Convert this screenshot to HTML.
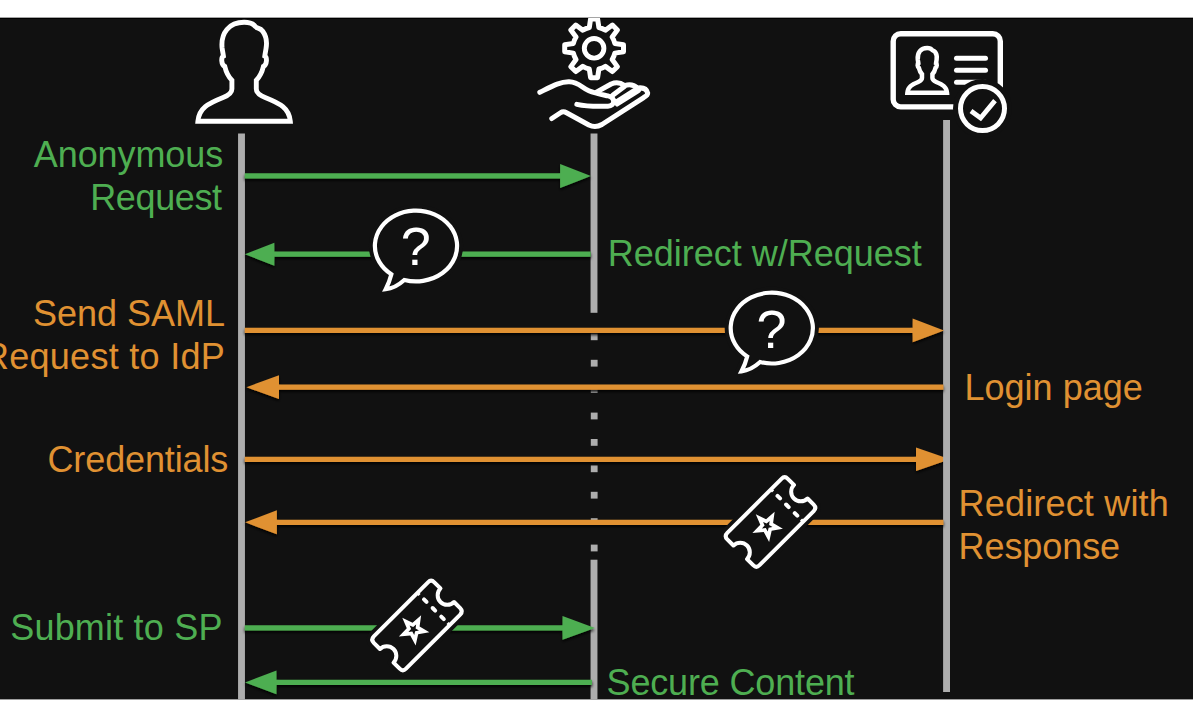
<!DOCTYPE html>
<html lang="en">
<head>
<meta charset="utf-8">
<title>SAML flow</title>
<style>
html,body{margin:0;padding:0;background:#fff;}
body{width:1193px;height:716px;overflow:hidden;font-family:"Liberation Sans",Arial,Helvetica,sans-serif;}
svg{display:block;}
</style>
</head>
<body>
<svg width="1193" height="716" viewBox="0 0 1193 716" font-family="'Liberation Sans', Arial, Helvetica, sans-serif">
<defs><filter id="sh" x="-5%" y="-50%" width="110%" height="250%"><feDropShadow dx="0" dy="2" stdDeviation="1.6" flood-color="#000" flood-opacity="0.9"/></filter><clipPath id="clip"><rect x="0" y="18" width="1193" height="681.4"/></clipPath></defs>
<rect width="1193" height="716" fill="#fff"/>
<rect x="0" y="17.8" width="1193" height="681.6" fill="#111111"/>
<rect x="0" y="17.8" width="1193" height="1.2" fill="#000"/>
<g clip-path="url(#clip)">
<rect x="238.05" y="133.5" width="6.9" height="570" fill="#adadad"/>
<rect x="590.55" y="133.5" width="6.9" height="179.3" fill="#adadad"/>
<rect x="590.55" y="559.7" width="6.9" height="150" fill="#adadad"/>
<rect x="590.80" y="333.40" width="6.8" height="6.8" fill="#adadad"/>
<rect x="590.80" y="359.80" width="6.8" height="6.8" fill="#adadad"/>
<rect x="590.80" y="386.20" width="6.8" height="6.8" fill="#adadad"/>
<rect x="590.80" y="412.60" width="6.8" height="6.8" fill="#adadad"/>
<rect x="590.80" y="439.00" width="6.8" height="6.8" fill="#adadad"/>
<rect x="590.80" y="465.40" width="6.8" height="6.8" fill="#adadad"/>
<rect x="590.80" y="491.80" width="6.8" height="6.8" fill="#adadad"/>
<rect x="590.80" y="518.20" width="6.8" height="6.8" fill="#adadad"/>
<rect x="590.80" y="544.60" width="6.8" height="6.8" fill="#adadad"/>
<g filter="url(#sh)">
<path d="M244.8 459.3 H917.0" stroke="#e09132" stroke-width="5.3" fill="none"/><path d="M916.0 447.6 L950.0 459.3 L916.0 471.0 Z" fill="#e09132"/>

</g>
<rect x="943.10" y="120" width="6.9" height="572" fill="#adadad"/>
<g filter="url(#sh)">
<path d="M244.8 175.9 H561.1" stroke="#4eae51" stroke-width="5.3" fill="none"/><path d="M560.1 163.9 L590.9 175.9 L560.1 187.9 Z" fill="#4eae51"/>

<path d="M590.7 254.2 H273.4" stroke="#4eae51" stroke-width="5.3" fill="none"/><path d="M274.4 242.7 L244.9 254.2 L274.4 265.7 Z" fill="#4eae51"/>

<path d="M244.8 330.4 H913.6" stroke="#e09132" stroke-width="5.3" fill="none"/><path d="M912.6 318.5 L944.0 330.4 L912.6 342.3 Z" fill="#e09132"/>

<path d="M943.4 387.2 H278.0" stroke="#e09132" stroke-width="5.3" fill="none"/><path d="M279.0 375.3 L246.4 387.2 L279.0 399.1 Z" fill="#e09132"/>

<path d="M943.4 522.3 H275.9" stroke="#e09132" stroke-width="5.3" fill="none"/><path d="M276.9 510.3 L245.1 522.3 L276.9 534.3 Z" fill="#e09132"/>

<path d="M244.8 627.9 H563.5" stroke="#4eae51" stroke-width="5.3" fill="none"/><path d="M562.5 616.1 L594.9 627.9 L562.5 639.7 Z" fill="#4eae51"/>

<path d="M592.0 682.4 H275.5" stroke="#4eae51" stroke-width="5.3" fill="none"/><path d="M276.5 670.6 L245.0 682.4 L276.5 694.2 Z" fill="#4eae51"/>

</g>
<path d="M391.38 274.35 A41.10 35.40 0 1 1 404.33 279.94 Q395.10 288.30 385.70 289.20 Q389.50 282.00 391.38 274.35 Z" fill="#111111" stroke="#111111" stroke-width="12" stroke-linejoin="round"/>
<path d="M391.38 274.35 A41.10 35.40 0 1 1 404.33 279.94 Q395.10 288.30 385.70 289.20 Q389.50 282.00 391.38 274.35 Z" fill="#111111" stroke="#fff" stroke-width="4.2" stroke-linejoin="miter"/>
<text x="415.7" y="265.4" font-size="54" fill="#fff" text-anchor="middle">?</text>

<path d="M747.18 356.45 A41.10 35.40 0 1 1 760.13 362.04 Q750.90 370.40 741.50 371.30 Q745.30 364.10 747.18 356.45 Z" fill="#111111" stroke="#111111" stroke-width="12" stroke-linejoin="round"/>
<path d="M747.18 356.45 A41.10 35.40 0 1 1 760.13 362.04 Q750.90 370.40 741.50 371.30 Q745.30 364.10 747.18 356.45 Z" fill="#111111" stroke="#fff" stroke-width="4.2" stroke-linejoin="miter"/>
<text x="771.5" y="347.5" font-size="54" fill="#fff" text-anchor="middle">?</text>

<g transform="translate(770.5 522.0) rotate(-45)">
<path d="M-38.30 -22.80 L38.30 -22.80 Q42.80 -22.80 42.80 -18.30 L42.80 -9.60 A9.60 9.60 0 0 0 42.80 9.60 L42.80 18.30 Q42.80 22.80 38.30 22.80 L-38.30 22.80 Q-42.80 22.80 -42.80 18.30 L-42.80 9.60 A9.60 9.60 0 0 0 -42.80 -9.60 L-42.80 -18.30 Q-42.80 -22.80 -38.30 -22.80 Z" fill="#111111" stroke="#111111" stroke-width="11.5" stroke-linejoin="round"/>
<path d="M-38.30 -22.80 L38.30 -22.80 Q42.80 -22.80 42.80 -18.30 L42.80 -9.60 A9.60 9.60 0 0 0 42.80 9.60 L42.80 18.30 Q42.80 22.80 38.30 22.80 L-38.30 22.80 Q-42.80 22.80 -42.80 18.30 L-42.80 9.60 A9.60 9.60 0 0 0 -42.80 -9.60 L-42.80 -18.30 Q-42.80 -22.80 -38.30 -22.80 Z" fill="#111111" stroke="#fff" stroke-width="4.0" stroke-linejoin="round"/>
<path d="M23.4 -13.5 L23.4 17.8" stroke="#fff" stroke-width="4.0" stroke-dasharray="3.6 8.6" stroke-linecap="round" fill="none"/>
<path d="M23.4 -22.8 v3 M23.4 22.8 v-3" stroke="#fff" stroke-width="3" fill="none"/>
<path d="M-4.93 -15.90 L-1.18 -5.11 L10.22 -4.36 L1.12 2.55 L3.92 13.62 L-5.45 7.10 L-15.12 13.19 L-11.81 2.25 L-20.59 -5.05 L-9.17 -5.29 Z" fill="#fff"/>
<path d="M-5.17 -5.30 L-3.85 -1.61 L0.06 -1.31 L-3.03 1.09 L-2.11 4.90 L-5.35 2.70 L-8.69 4.75 L-7.60 0.99 L-10.59 -1.55 L-6.67 -1.67 Z" fill="#111111"/>
</g>

<g transform="translate(417.0 625.5) rotate(-45)">
<path d="M-38.30 -22.80 L38.30 -22.80 Q42.80 -22.80 42.80 -18.30 L42.80 -9.60 A9.60 9.60 0 0 0 42.80 9.60 L42.80 18.30 Q42.80 22.80 38.30 22.80 L-38.30 22.80 Q-42.80 22.80 -42.80 18.30 L-42.80 9.60 A9.60 9.60 0 0 0 -42.80 -9.60 L-42.80 -18.30 Q-42.80 -22.80 -38.30 -22.80 Z" fill="#111111" stroke="#111111" stroke-width="11.5" stroke-linejoin="round"/>
<path d="M-38.30 -22.80 L38.30 -22.80 Q42.80 -22.80 42.80 -18.30 L42.80 -9.60 A9.60 9.60 0 0 0 42.80 9.60 L42.80 18.30 Q42.80 22.80 38.30 22.80 L-38.30 22.80 Q-42.80 22.80 -42.80 18.30 L-42.80 9.60 A9.60 9.60 0 0 0 -42.80 -9.60 L-42.80 -18.30 Q-42.80 -22.80 -38.30 -22.80 Z" fill="#111111" stroke="#fff" stroke-width="4.0" stroke-linejoin="round"/>
<path d="M23.4 -13.5 L23.4 17.8" stroke="#fff" stroke-width="4.0" stroke-dasharray="3.6 8.6" stroke-linecap="round" fill="none"/>
<path d="M23.4 -22.8 v3 M23.4 22.8 v-3" stroke="#fff" stroke-width="3" fill="none"/>
<path d="M-4.93 -15.90 L-1.18 -5.11 L10.22 -4.36 L1.12 2.55 L3.92 13.62 L-5.45 7.10 L-15.12 13.19 L-11.81 2.25 L-20.59 -5.05 L-9.17 -5.29 Z" fill="#fff"/>
<path d="M-5.17 -5.30 L-3.85 -1.61 L0.06 -1.31 L-3.03 1.09 L-2.11 4.90 L-5.35 2.70 L-8.69 4.75 L-7.60 0.99 L-10.59 -1.55 L-6.67 -1.67 Z" fill="#111111"/>
</g>

<path transform="translate(244.1 0)" d="M0 22.3 C6 22.3 9.5 24 11.5 26.8 C13 28.6 16 27.6 18.6 31.2 C22 35.8 23 42 22 48 C21.6 51 21 53.5 20.7 56 C23 57 23.2 64.5 19.3 66.5 C18 72 15.5 77 12.2 80.2 L12.2 89 C12.2 93 16 95.5 21 97.5 C36 103.5 45 108 46.2 121.2 L-46.2 121.2 C-45 108 -36 103.5 -21 97.5 C-16 95.5 -12.2 93 -12.2 89 L-12.2 80.2 C-15.5 77 -18 72 -19.3 66.5 C-23.2 64.5 -23 57 -20.7 56 C-21 53.5 -21.6 51 -22 48 C-23.5 33 -15 22.3 0 22.3 Z" fill="none" stroke="#fff" stroke-width="4.9" stroke-linejoin="miter"/>
<path d="M589.30 27.55 L590.60 18.91 L597.60 18.91 L598.90 27.55 A21.30 21.30 0 0 1 605.38 30.23 L612.41 25.04 L617.36 29.99 L612.17 37.02 A21.30 21.30 0 0 1 614.85 43.50 L623.49 44.80 L623.49 51.80 L614.85 53.10 A21.30 21.30 0 0 1 612.17 59.58 L617.36 66.61 L612.41 71.56 L605.38 66.37 A21.30 21.30 0 0 1 598.90 69.05 L597.60 77.69 L590.60 77.69 L589.30 69.05 A21.30 21.30 0 0 1 582.82 66.37 L575.79 71.56 L570.84 66.61 L576.03 59.58 A21.30 21.30 0 0 1 573.35 53.10 L564.71 51.80 L564.71 44.80 L573.35 43.50 A21.30 21.30 0 0 1 576.03 37.02 L570.84 29.99 L575.79 25.04 L582.82 30.23 A21.30 21.30 0 0 1 589.30 27.55 Z" fill="none" stroke="#fff" stroke-width="5.0" stroke-linejoin="round"/>
<circle cx="594.1" cy="48.3" r="9.8" fill="none" stroke="#fff" stroke-width="4.9"/>
<g transform="translate(530 70) scale(0.10897)"><path d="M90 205 C200 150 280 105 360 108 C450 112 470 160 540 190 C600 215 660 225 715 237 C785 252 785 330 715 332 C620 336 520 335 430 315 M200 445 L280 392 Q305 375 335 392 L540 505 Q600 535 660 500 L1043 253 Q1082 232 1080 212 Q1066 154 985 166 Q940 121 868 143 Q810 99 745 128 L610 203 M866 152 L762 230 M984 172 L786 296 M994 190 L800 312" fill="none" stroke="#fff" stroke-width="46" stroke-linecap="round" stroke-linejoin="round"/></g>
<rect x="893.2" y="33.7" width="107.1" height="73.2" rx="7.5" fill="none" stroke="#fff" stroke-width="5.4"/>
<g transform="translate(927.2 37.8) scale(0.4286 0.4528)"><path d="M0 22.3 C6 22.3 9.5 24 11.5 26.8 C13 28.6 16 27.6 18.6 31.2 C22 35.8 23 42 22 48 C21.6 51 21 53.5 20.7 56 C23 57 23.2 64.5 19.3 66.5 C18 72 15.5 77 12.2 80.2 L12.2 89 C12.2 93 16 95.5 21 97.5 C36 103.5 45 108 46.2 121.2 L-46.2 121.2 C-45 108 -36 103.5 -21 97.5 C-16 95.5 -12.2 93 -12.2 89 L-12.2 80.2 C-15.5 77 -18 72 -19.3 66.5 C-23.2 64.5 -23 57 -20.7 56 C-21 53.5 -21.6 51 -22 48 C-23.5 33 -15 22.3 0 22.3 Z" fill="none" stroke="#fff" stroke-width="4.5" vector-effect="non-scaling-stroke"/></g>
<path d="M956.5 58.2 H985.5" stroke="#fff" stroke-width="5" stroke-linecap="round"/>
<path d="M956.5 70.2 H985.5" stroke="#fff" stroke-width="5" stroke-linecap="round"/>
<path d="M956.5 82.2 H985.5" stroke="#fff" stroke-width="5" stroke-linecap="round"/>
<circle cx="982.5" cy="108.6" r="29.5" fill="#111111"/>
<circle cx="982.5" cy="108.6" r="22" fill="none" stroke="#fff" stroke-width="5"/>
<path d="M971 111.0 L980.6 118.0 L995 100.6" fill="none" stroke="#fff" stroke-width="4.8"/>
<text x="33.82" y="167.2" font-size="36.0" fill="#4eae51" textLength="189.38" lengthAdjust="spacing">Anonymous</text>
<text x="90.17" y="209.5" font-size="36.0" fill="#4eae51" textLength="131.93" lengthAdjust="spacing">Request</text>
<text x="607.85" y="265.7" font-size="36.0" fill="#4eae51" textLength="313.82" lengthAdjust="spacing">Redirect w/Request</text>
<text x="33.11" y="325.7" font-size="36.0" fill="#e09132" textLength="191.89" lengthAdjust="spacing">Send SAML</text>
<text x="-17.12" y="368.5" font-size="36.0" fill="#e09132" textLength="241.88" lengthAdjust="spacing">Request to IdP</text>
<text x="964.39" y="399.7" font-size="36.0" fill="#e09132" textLength="178.49" lengthAdjust="spacing">Login page</text>
<text x="47.48" y="471.9" font-size="36.0" fill="#e09132" textLength="180.89" lengthAdjust="spacing">Credentials</text>
<text x="958.60" y="516.0" font-size="36.0" fill="#e09132" textLength="210.17" lengthAdjust="spacing">Redirect with</text>
<text x="958.60" y="558.5" font-size="36.0" fill="#e09132" textLength="161.53" lengthAdjust="spacing">Response</text>
<text x="10.22" y="640.3" font-size="36.0" fill="#4eae51" textLength="212.22" lengthAdjust="spacing">Submit to SP</text>
<text x="606.59" y="694.8" font-size="36.0" fill="#4eae51" textLength="248.02" lengthAdjust="spacing">Secure Content</text>
</g>
</svg>
</body>
</html>
